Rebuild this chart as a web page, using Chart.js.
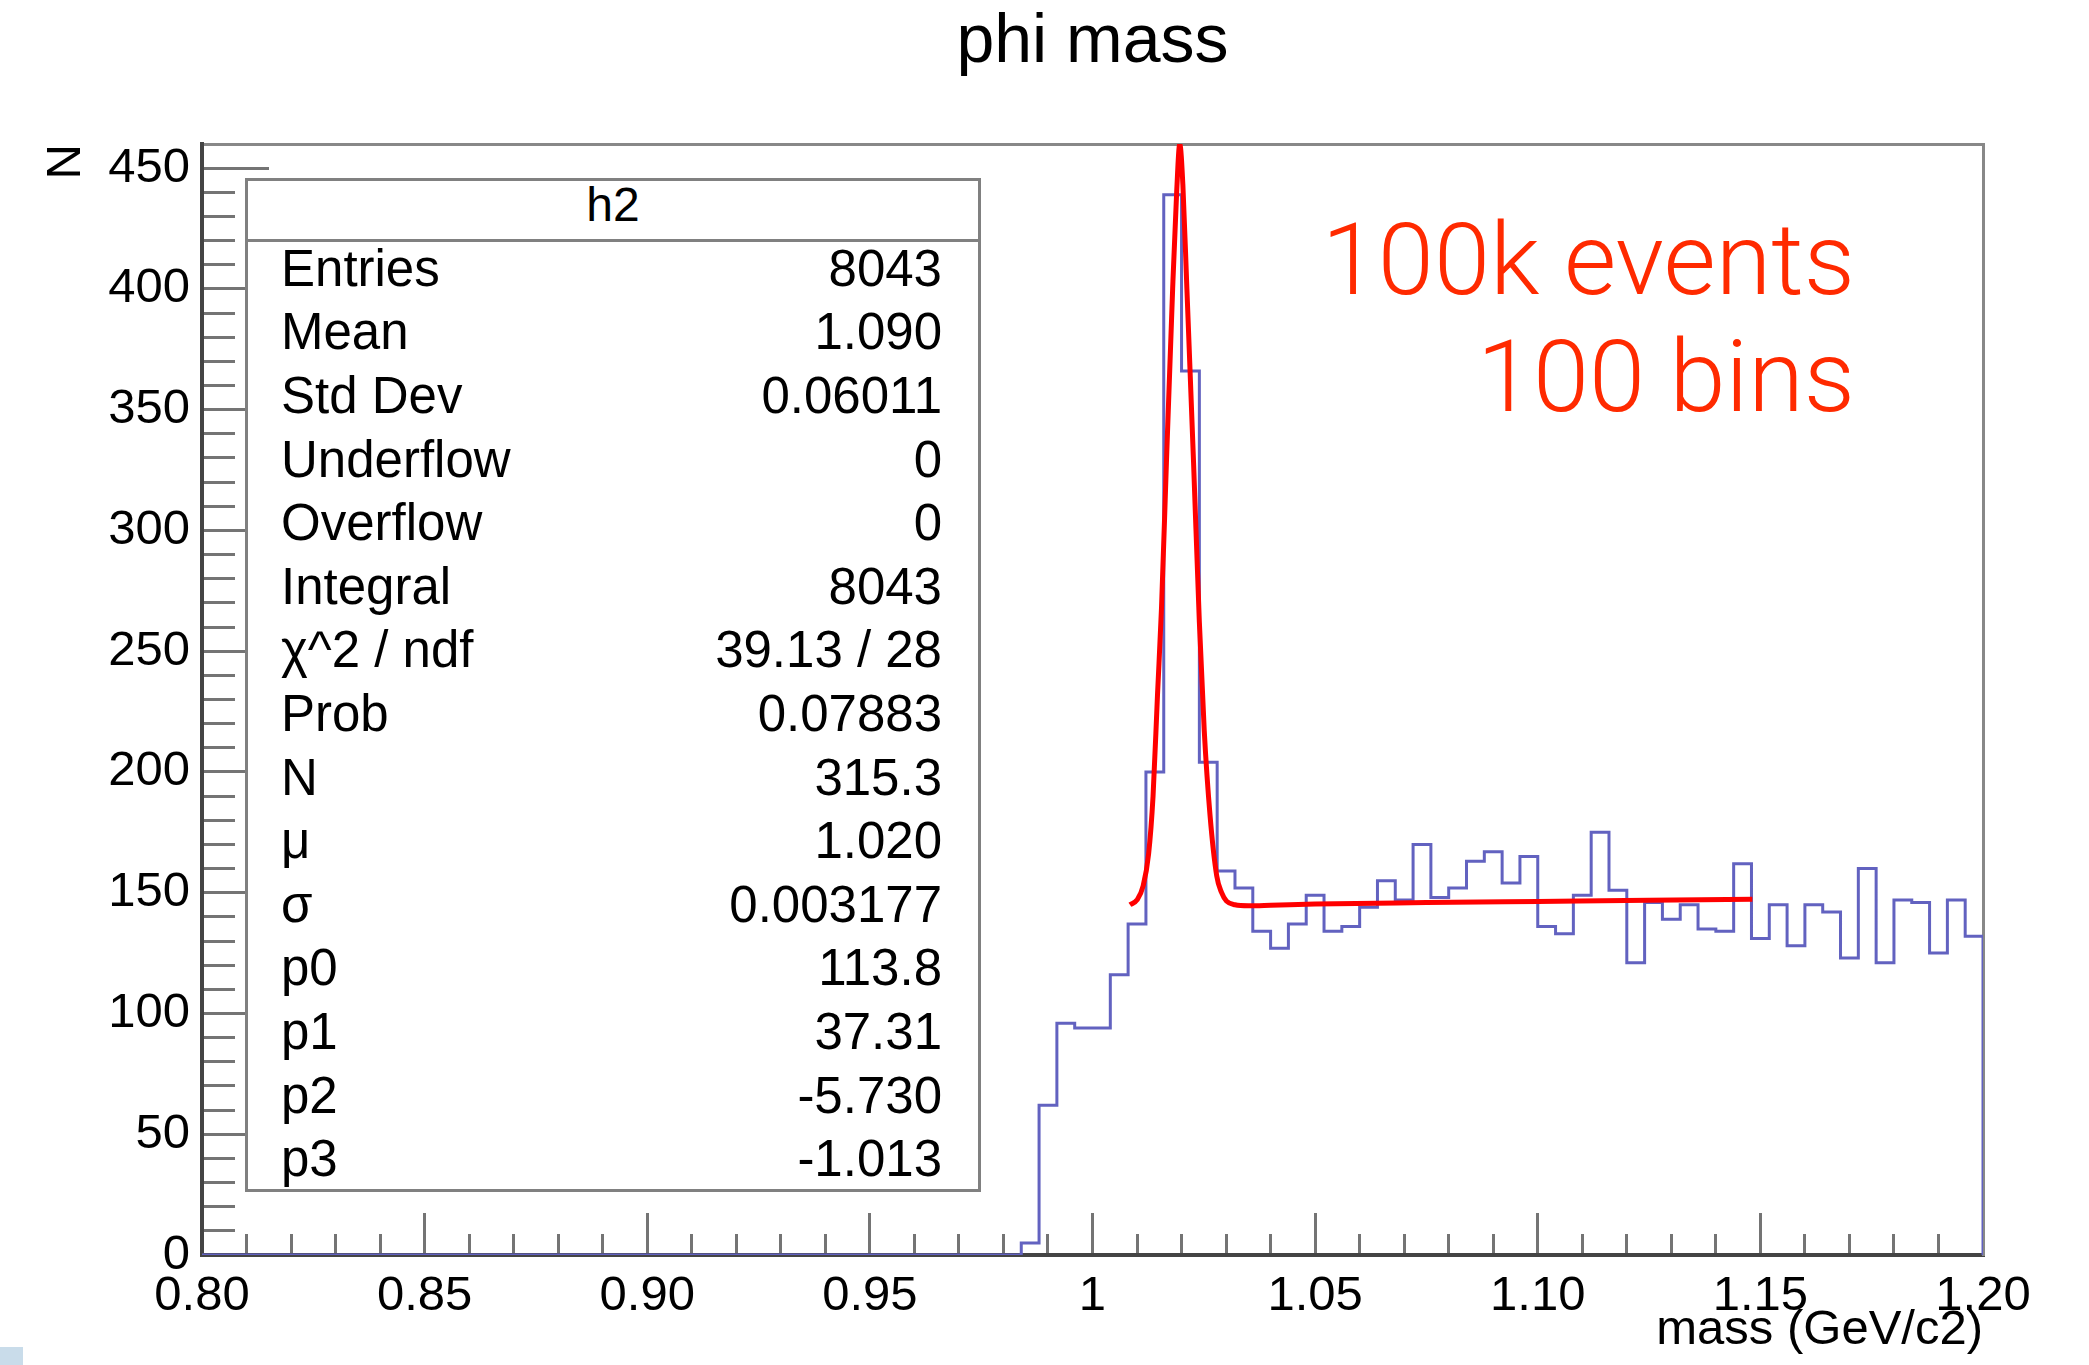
<!DOCTYPE html>
<html>
<head>
<meta charset="utf-8">
<script src="https://cdn.jsdelivr.net/npm/chart.js@4.4.1/dist/chart.umd.min.js"></script>
<style>
html,body{margin:0;padding:0;background:#fff;}
#wrap{position:relative;width:2089px;height:1365px;overflow:hidden;background:#fff;}
#c{position:absolute;left:0;top:0;z-index:1;}
.ov{position:absolute;z-index:3;white-space:nowrap;font-family:'Liberation Sans',Arial,sans-serif;color:#000;}
#statsBox{position:absolute;z-index:2;left:245px;top:178px;width:736px;height:1014px;box-sizing:border-box;border:3px solid #808080;background:#fff;}
#statsSep{position:absolute;z-index:3;left:245px;top:238.5px;width:736px;height:3px;background:#808080;}
.note{position:absolute;z-index:3;white-space:nowrap;font-family:Roboto,'Open Sans',Lato,sans-serif;font-weight:300;color:#ff2a00;font-size:101px;line-height:101px;text-align:right;}
#corner{position:absolute;z-index:3;left:0;top:1347px;width:23px;height:18px;background:#c9dcea;}
</style>
</head>
<body>
<div id="wrap">
  <canvas id="c" width="2089" height="1365"></canvas>
  <div id="statsBox"></div>
  <div id="statsSep"></div>
  <div id="corner"></div>
</div>
<script>
// ---------- data ----------
const histRange = [0.80, 1.20];           // histogram axis range (100 bins)
const binCounts = [
  0,0,0,0,0,0,0,0,0,0,
  0,0,0,0,0,0,0,0,0,0,
  0,0,0,0,0,0,0,0,0,0,
  0,0,0,0,0,0,0,0,0,0,
  0,0,0,0,0,0,5,62,96,94,
  94,116,137,200,439,366,204,159,152,134,
  127,137,149,134,136,144,155,147,170,148,
  152,163,167,154,165,136,133,149,175,151,
  121,146,139,145,135,134,162,131,145,128,
  145,142,123,160,121,147,146,125,147,132
];
const fitMass = [1.0084,1.0100,1.0114,1.0126,1.0136,1.0146,1.0155,1.0166,1.0180,1.0189,
                 1.0196,1.0203,1.0212,1.0227,1.0240,1.0251,1.0264,1.0279,1.0290,1.0301,
                 1.0320,1.0350,1.0400,1.0500,1.0750,1.1000,1.1250,1.1482];
const fitCounts = [145,147,153,166,190,232,268,328,400,440,
                   460,443,400,328,262,217,182,157,150,146.5,
                   145,144.6,144.8,145.3,145.9,146.4,146.9,147.3];
const xTickValues = [0.80,0.85,0.90,0.95,1.00,1.05,1.10,1.15,1.20];
const xTickLabels = ['0.80','0.85','0.90','0.95','1','1.05','1.10','1.15','1.20'];
const yTickValues = [0,50,100,150,200,250,300,350,400,450];
const yTickLabels = ['0','50','100','150','200','250','300','350','400','450'];
const statsTitle = 'h2';
const statsLabels = ['Entries','Mean','Std Dev','Underflow','Overflow','Integral','χ^2 / ndf','Prob','N','μ','σ','p0','p1','p2','p3'];
const statsValues = ['8043','1.090','0.06011','0','0','8043','39.13 / 28','0.07883','315.3','1.020','0.003177','113.8','37.31','-5.730','-1.013'];
const noteLines = ['100k events','100 bins'];

// ---------- build ----------
const FONT = "'Liberation Sans', Arial, sans-serif";
Chart.defaults.font.family = FONT;

const nBins = binCounts.length;
const binW = (histRange[1] - histRange[0]) / nBins;
const histPoints = binCounts.map((c, i) => ({x: histRange[0] + i * binW, y: c}));
histPoints.push({x: histRange[1], y: 0});
const fitPoints = fitMass.map((m, i) => ({x: m, y: fitCounts[i]}));

function labelFor(v, vals, labs) {
  const i = vals.findIndex(t => Math.abs(t - v) < 1e-6);
  return i < 0 ? '' : labs[i];
}

const TICK = '#747474';

new Chart(document.getElementById('c'), {
  type: 'line',
  data: {
    datasets: [
      {label: 'fit', data: fitPoints, borderColor: '#ff0000', borderWidth: 5, pointRadius: 0,
       cubicInterpolationMode: 'monotone', fill: false, order: 0, xAxisID: 'x', yAxisID: 'y'},
      {label: 'h2', data: histPoints, borderColor: '#6262c0', borderWidth: 3, pointRadius: 0,
       stepped: 'before', fill: false, order: 1, xAxisID: 'x', yAxisID: 'y'}
    ]
  },
  options: {
    responsive: false, animation: false, events: [], devicePixelRatio: 1,
    layout: {padding: {left: 0, top: 0, right: 106, bottom: 0}},
    plugins: {
      legend: {display: false}, tooltip: {enabled: false},
      title: {display: true, text: 'phi mass', fullSize: false, color: '#000',
              font: {family: FONT, size: 68, weight: 'normal', lineHeight: 1.2},
              padding: {top: 2, bottom: 60.4}}
    },
    scales: {
      x: {type: 'linear', position: 'bottom', weight: 1, min: histRange[0], max: histRange[1],
          afterFit(s) { s.height = 110; },
          ticks: {stepSize: 0.05, autoSkip: false, maxRotation: 0, minRotation: 0, padding: 53.6, color: '#000',
                  font: {size: 49}, callback: v => labelFor(v, xTickValues, xTickLabels)},
          grid: {display: true, drawOnChartArea: false, drawTicks: true, tickLength: -42, color: TICK, lineWidth: 3},
          border: {display: true, color: '#444', width: 4},
          title: {display: true, text: 'mass (GeV/c2)', align: 'end', color: '#000', font: {size: 49},
                  padding: {top: 0, bottom: 5.6}}},
      xMinor: {type: 'linear', position: 'bottom', weight: 0, min: histRange[0], max: histRange[1],
          afterFit(s) { s.height = 0; },
          ticks: {display: false, stepSize: 0.01},
          grid: {display: true, drawOnChartArea: false, drawTicks: true, tickLength: -21, color: TICK, lineWidth: 3},
          border: {display: false}},
      xTop: {type: 'linear', position: 'top', weight: 0, min: histRange[0], max: histRange[1],
          afterFit(s) { s.height = 0; },
          ticks: {display: false},
          grid: {display: false, drawOnChartArea: false, drawTicks: false},
          border: {display: true, color: '#888', width: 3}},
      y: {type: 'linear', position: 'left', weight: 1, min: 0, max: 460,
          afterFit(s) { s.width = 202; },
          ticks: {stepSize: 50, includeBounds: false, autoSkip: false, padding: 79, color: '#000',
                  font: {size: 49}, callback: v => labelFor(v, yTickValues, yTickLabels)},
          grid: {display: true, drawOnChartArea: false, drawTicks: true, tickLength: -67, color: TICK, lineWidth: 3},
          border: {display: true, color: '#444', width: 4},
          title: {display: true, text: 'N', align: 'end', color: '#000', font: {size: 49},
                  padding: {top: 36.6, bottom: 0}}},
      yMinor: {type: 'linear', position: 'left', weight: 0, min: 0, max: 460,
          afterFit(s) { s.width = 0; },
          ticks: {display: false, stepSize: 10},
          grid: {display: true, drawOnChartArea: false, drawTicks: true, tickLength: -33, color: TICK, lineWidth: 3},
          border: {display: false}},
      yRight: {type: 'linear', position: 'right', weight: 0, min: 0, max: 460,
          afterFit(s) { s.width = 0; },
          ticks: {display: false},
          grid: {display: false, drawOnChartArea: false, drawTicks: false},
          border: {display: true, color: '#888', width: 3}}
    }
  }
});

// ---------- statistics box and annotation (real text) ----------
const wrap = document.getElementById('wrap');
function addText(txt, css) {
  const d = document.createElement('div');
  d.className = 'ov';
  d.textContent = txt;
  Object.assign(d.style, css);
  wrap.appendChild(d);
  return d;
}
addText(statsTitle, {left: '245px', width: '736px', textAlign: 'center', top: '181px', fontSize: '48px', lineHeight: '48px'});
statsLabels.forEach((lab, i) => {
  const top = (242.8 + 63.6 * i) + 'px';
  addText(lab, {left: '281px', top, fontSize: '51px', lineHeight: '51px'});
  addText(statsValues[i], {right: (2089 - 942) + 'px', top, fontSize: '51px', lineHeight: '51px', textAlign: 'right'});
});
noteLines.forEach((t, i) => {
  const d = document.createElement('div');
  d.className = 'note';
  d.textContent = t;
  d.style.right = (2089 - 1855) + 'px';
  d.style.top = (209 + 117 * i) + 'px';
  wrap.appendChild(d);
});
</script>
</body>
</html>
